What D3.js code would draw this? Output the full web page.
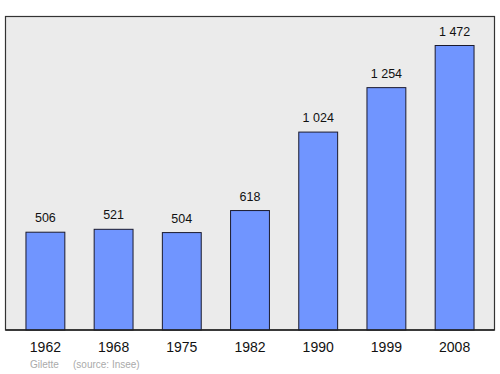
<!DOCTYPE html>
<html>
<head>
<meta charset="utf-8">
<script src="https://cdn.jsdelivr.net/npm/d3@7"></script>
<style>
  body { margin: 0; background: #fff; }
  text { font-family: "Liberation Sans", Arial, sans-serif; }
</style>
</head>
<body>
<div id="chart"></div>
<script>
// census years and population
let years = ["1962", "1968", "1975", "1982", "1990", "1999", "2008"];
let population = [506, 521, 504, 618, 1024, 1254, 1472];
let townName = "Gilette";
let sourceText = "(source: Insee)";

let width = 500;
let height = 374;
let frame = {left: 5.5, top: 16.5, right: 494.5, bottom: 330};

let svg = d3.select("#chart")
    .append("svg")
    .attr("width", width)
    .attr("height", height);

svg.append("rect")
    .attr("x", frame.left)
    .attr("y", frame.top)
    .attr("width", frame.right - frame.left)
    .attr("height", frame.bottom - frame.top)
    .attr("fill", "#ebebeb")
    .attr("stroke", "#333")
    .attr("stroke-width", 1.2);

let xScale = d3.scaleBand()
    .domain(years)
    .range([frame.left, frame.right])
    .paddingInner(0.43)
    .paddingOuter(0.3);

let yScale = d3.scaleLinear()
    .domain([0, 1472])
    .range([frame.bottom, 45.5]);

let fmt = d3.formatLocale({decimal: ",", thousands: "\u00a0", grouping: [3], currency: ["", ""]}).format(",d");

svg.selectAll(".bar")
    .data(years)
    .enter()
    .append("rect")
    .attr("class", "bar")
    .attr("x", d => xScale(d))
    .attr("y", (d, i) => yScale(population[i]))
    .attr("width", xScale.bandwidth())
    .attr("height", (d, i) => frame.bottom - yScale(population[i]))
    .attr("fill", "#7095ff")
    .attr("stroke", "#1a1a2e")
    .attr("stroke-width", 1);

svg.selectAll(".val")
    .data(years)
    .enter()
    .append("text")
    .attr("class", "val")
    .attr("x", d => xScale(d) + xScale.bandwidth() / 2)
    .attr("y", (d, i) => yScale(population[i]) - 10)
    .attr("text-anchor", "middle")
    .attr("font-size", 12.5)
    .attr("fill", "#111")
    .text((d, i) => fmt(population[i]));

// bottom line of the frame a bit heavier
svg.append("line")
    .attr("x1", frame.left)
    .attr("x2", frame.right)
    .attr("y1", frame.bottom)
    .attr("y2", frame.bottom)
    .attr("stroke", "#222")
    .attr("stroke-width", 1.5);

let xaxis = svg.append("g")
    .attr("transform", "translate(0," + frame.bottom + ")")
    .call(d3.axisBottom(xScale).tickSize(0).tickPadding(12));
xaxis.select(".domain").remove();
xaxis.selectAll("text")
    .attr("font-size", 14)
    .attr("font-family", "Liberation Sans, Arial, sans-serif")
    .attr("fill", "#111");

svg.append("text")
    .attr("x", 30)
    .attr("y", 368)
    .attr("font-size", 10)
    .attr("fill", "#aaa")
    .text(townName);

svg.append("text")
    .attr("x", 73)
    .attr("y", 368)
    .attr("font-size", 10)
    .attr("fill", "#aaa")
    .text(sourceText);
</script>
</body>
</html>
